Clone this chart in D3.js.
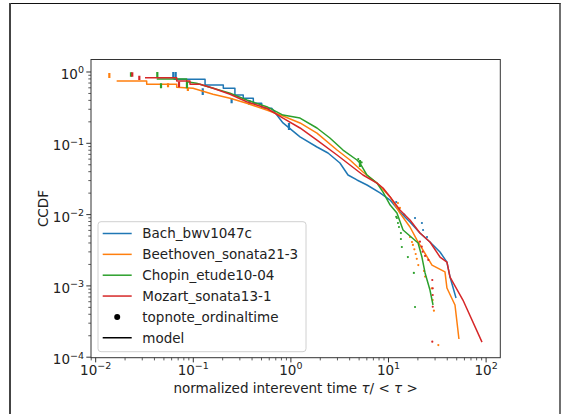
<!DOCTYPE html>
<html><head><meta charset="utf-8">
<script src="https://cdn.jsdelivr.net/npm/d3@7"></script>
<style>html,body{margin:0;padding:0;background:#fff;} svg{display:block;font-family:"DejaVu Sans",sans-serif;}</style>
</head><body><svg id="c" width="563" height="414"></svg>
<script>
// ---------- data ----------
const seriesNames = ["Bach_bwv1047c", "Beethoven_sonata21-3", "Chopin_etude10-04", "Mozart_sonata13-1"];
const seriesColors = ["#1f77b4", "#ff7f0e", "#2ca02c", "#d62728"];

// model lines (x = tau/<tau>, y = CCDF)
const bachX = [0.0628,0.132,0.132,0.203,0.203,0.267,0.267,0.325,0.325,0.412,0.412,0.502,0.502,0.636,0.830,1.24,1.85,2.40,3.18,3.85,4.75,6.02,8.19,10.4,13.1,16.6,21.0,26.6,33.7,39.7,42.7,49.2];
const bachY = [0.790,0.790,0.657,0.657,0.591,0.591,0.476,0.476,0.428,0.428,0.364,0.364,0.310,0.310,0.193,0.123,0.0887,0.0731,0.0529,0.0359,0.0306,0.0260,0.0201,0.0160,0.0109,0.00787,0.00552,0.00413,0.00299,0.00216,0.00133,0.000677];
const beetX = [0.0164,0.0333,0.0333,0.0676,0.0676,0.0993,0.159,0.238,0.353,0.565,0.830,1.24,1.85,2.97,4.03,5.48,7.62,10.4,13.1,16.6,19.6,27.9,37.9,39.7,48.0,52.7];
const beetY = [0.748,0.748,0.672,0.672,0.610,0.591,0.487,0.428,0.364,0.293,0.241,0.193,0.139,0.0805,0.0583,0.0396,0.0277,0.0177,0.0105,0.0067,0.0044,0.00196,0.00157,0.000935,0.00054,0.00018];
const chopX = [0.0422,0.0855,0.0855,0.108,0.160,0.238,0.353,0.565,0.830,1.24,1.85,2.51,3.42,4.75,5.10,6.02,7.62,8.79,10.4,12.2,14.1,20.1,22.0,23.7,26.6,28.6];
const chopY = [0.798,0.798,0.731,0.694,0.591,0.503,0.405,0.326,0.249,0.226,0.164,0.1187,0.0805,0.0583,0.0529,0.0359,0.0277,0.0207,0.0136,0.0105,0.00608,0.00400,0.00254,0.00152,0.000876,0.000540];
const mozX = [0.0320,0.0676,0.0676,0.0925,0.0925,0.117,0.160,0.238,0.353,0.565,0.830,1.24,1.85,2.97,4.03,5.48,7.62,8.79,10.4,13.1,16.6,21.0,26.6,33.7,39.7,42.7,57.9,90.8];
const mozY = [0.832,0.832,0.748,0.748,0.672,0.672,0.591,0.487,0.383,0.310,0.226,0.164,0.111,0.0685,0.0496,0.0359,0.0277,0.0236,0.0177,0.0116,0.0084,0.00552,0.00413,0.00254,0.00216,0.00133,0.000634,0.000163];

// data points (topnote_ordinaltime)
const bachDotX = [18.7,22.0,22.6,24.8,12.0,14.5];
const bachDotY = [0.00896,0.00762,0.00608,0.00485,0.0150,0.0100];
const beetDotX = [16.6,17.4,17.8,18.4,19.0,19.5,20.2,23.1,23.7,27.7,28.4,29.2,32.4,12.5,13.1];
const beetDotY = [0.00485,0.00413,0.00375,0.00326,0.0028,0.0024,0.00196,0.00162,0.00135,0.000925,0.000634,0.000449,0.000148,0.0145,0.0124];
const chopDotX = [12.2,12.5,12.8,13.4,13.4,13.7,15.8,18.2,18.7,4.9,5.3,12.0];
const chopDotY = [0.00896,0.00762,0.0067,0.00552,0.00455,0.00351,0.00254,0.00152,0.000506,0.060,0.054,0.0093];
const mozDotX = [21.0,21.9,22.4,23.7,25.6,28.1,28.4,28.4,28.4,28.1];
const mozDotY = [0.00417,0.00355,0.00302,0.00263,0.00231,0.00121,0.000925,0.000745,0.00051,0.000165];

// tied data points stacked vertically: x, upper CCDF, lower CCDF
const bachTieX = [0.0624,0.066,0.125,0.247,0.376,0.956];
const bachTieHi = [1.0,1.0,0.591,0.428,0.405,0.193];
const bachTieLo = [0.816,0.816,0.476,0.364,0.345,0.154];
const beetTieX = [0.0138,0.0551,0.088];
const beetTieHi = [0.968,0.694,0.60];
const beetTieLo = [0.824,0.61,0.54];
const chopTieX = [0.0230,0.0428,0.0467,0.0861,5.1];
const chopTieHi = [0.99,1.0,0.694,0.731,0.0583];
const chopTieLo = [0.86,0.832,0.591,0.591,0.0464];
const mozTieX = [0.0237,0.028,0.0714];
const mozTieHi = [0.99,0.887,0.731];
const mozTieLo = [0.86,0.772,0.610];

const xTickValues = [1e-2, 1e-1, 1e0, 1e1, 1e2];
const xTickExp = ["\u22122", "\u22121", "0", "1", "2"];
const yTickValues = [1e0, 1e-1, 1e-2, 1e-3, 1e-4];
const yTickExp = ["0", "\u22121", "\u22122", "\u22123", "\u22124"];

const xLabel = "normalized interevent time ";
const yLabel = "CCDF";
const legendExtra = ["topnote_ordinaltime", "model"];

// ---------- drawing ----------
const lines = [[bachX,bachY],[beetX,beetY],[chopX,chopY],[mozX,mozY]];
const dots = [[bachDotX,bachDotY],[beetDotX,beetDotY],[chopDotX,chopDotY],[mozDotX,mozDotY]];
const ties = [[bachTieX,bachTieHi,bachTieLo],[beetTieX,beetTieHi,beetTieLo],[chopTieX,chopTieHi,chopTieLo],[mozTieX,mozTieHi,mozTieLo]];

const svg = d3.select("#c");
const P = {left: 91, right: 500.3, top: 59.5, bottom: 357.7};
const x = d3.scaleLog().domain([Math.pow(10,-2.048), Math.pow(10,2.1455)]).range([P.left, P.right]);
const y = d3.scaleLog().domain([Math.pow(10,-4.007), Math.pow(10,0.1753)]).range([P.bottom, P.top]);
const FS = 13.5;

// outer frame
svg.append("line").attr("x1",9).attr("x2",560.5).attr("y1",3.5).attr("y2",3.5).attr("stroke","#111").attr("stroke-width",1.2);
svg.append("line").attr("x1",10).attr("x2",10).attr("y1",3).attr("y2",414).attr("stroke","#444").attr("stroke-width",2);
svg.append("line").attr("x1",560).attr("x2",560).attr("y1",3).attr("y2",414).attr("stroke","#333").attr("stroke-width",1.4);

svg.append("defs").append("clipPath").attr("id","clip")
  .append("rect").attr("x",P.left).attr("y",P.top).attr("width",P.right-P.left).attr("height",P.bottom-P.top);

const g = svg.append("g").attr("clip-path","url(#clip)");
const lineGen = d3.line().x(d => x(d[0])).y(d => y(d[1]));

lines.forEach((s, i) => {
  const pts = s[0].map((v, k) => [v, s[1][k]]);
  g.append("path").attr("d", lineGen(pts)).attr("fill","none")
    .attr("stroke", seriesColors[i]).attr("stroke-width",1.5).attr("stroke-linejoin","round");
  const dp = dots[i][0].map((v, k) => [v, dots[i][1][k]]);
  g.selectAll(null).data(dp).enter().append("circle")
    .attr("cx", d => x(d[0])).attr("cy", d => y(d[1])).attr("r",1.1).attr("fill", seriesColors[i]);
  const tp = ties[i][0].map((v, k) => [v, ties[i][1][k], ties[i][2][k]]);
  g.selectAll(null).data(tp).enter().append("line")
    .attr("x1", d => x(d[0])).attr("x2", d => x(d[0]))
    .attr("y1", d => y(d[1])).attr("y2", d => y(d[2]))
    .attr("stroke", seriesColors[i]).attr("stroke-width",2.2);
});

// spines
svg.append("rect").attr("x",P.left).attr("y",P.top).attr("width",P.right-P.left).attr("height",P.bottom-P.top)
  .attr("fill","none").attr("stroke","#333").attr("stroke-width",1);

// ticks
const minorX = x.ticks().filter(v => Math.abs(Math.log10(v) - Math.round(Math.log10(v))) > 1e-6);
const minorY = y.ticks().filter(v => Math.abs(Math.log10(v) - Math.round(Math.log10(v))) > 1e-6);
svg.selectAll(null).data(minorX).enter().append("line")
  .attr("x1", d => x(d)).attr("x2", d => x(d)).attr("y1", P.bottom).attr("y2", P.bottom+2.7)
  .attr("stroke","#333").attr("stroke-width",0.8);
svg.selectAll(null).data(minorY).enter().append("line")
  .attr("y1", d => y(d)).attr("y2", d => y(d)).attr("x1", P.left).attr("x2", P.left-2.7)
  .attr("stroke","#333").attr("stroke-width",0.8);
svg.selectAll(null).data(xTickValues).enter().append("line")
  .attr("x1", d => x(d)).attr("x2", d => x(d)).attr("y1", P.bottom).attr("y2", P.bottom+4.7)
  .attr("stroke","#333").attr("stroke-width",1);
svg.selectAll(null).data(yTickValues).enter().append("line")
  .attr("y1", d => y(d)).attr("y2", d => y(d)).attr("x1", P.left).attr("x2", P.left-4.7)
  .attr("stroke","#333").attr("stroke-width",1);

xTickValues.forEach((v, i) => {
  const t = svg.append("text").attr("x", x(v)).attr("y", P.bottom + 17).attr("text-anchor","middle")
    .attr("font-size", FS).attr("fill","#222");
  t.append("tspan").text("10");
  t.append("tspan").attr("dy",-5.5).attr("font-size",9.5).text(xTickExp[i]);
});
yTickValues.forEach((v, i) => {
  const t = svg.append("text").attr("x", P.left - 7).attr("y", y(v) + 7).attr("text-anchor","end")
    .attr("font-size", FS).attr("fill","#222");
  t.append("tspan").text("10");
  t.append("tspan").attr("dy",-5.5).attr("font-size",9.5).text(yTickExp[i]);
});

// axis labels
const xl = svg.append("text").attr("x", (P.left+P.right)/2).attr("y", 392.5).attr("text-anchor","middle")
  .attr("font-size", FS).attr("fill","#222");
xl.append("tspan").text(xLabel);
xl.append("tspan").attr("font-style","italic").text("\u03c4");
xl.append("tspan").text("/ < ");
xl.append("tspan").attr("font-style","italic").text("\u03c4");
xl.append("tspan").text(" >");
svg.append("text").attr("transform", `translate(48,${(P.top+P.bottom)/2}) rotate(-90)`)
  .attr("text-anchor","middle").attr("font-size", FS).attr("fill","#222").text(yLabel);

// legend
const L = {x: 98, y: 221.7, w: 208, h: 130};
svg.append("rect").attr("x",L.x).attr("y",L.y).attr("width",L.w).attr("height",L.h).attr("rx",3)
  .attr("fill","#fff").attr("fill-opacity",0.85).attr("stroke","#d0d0d0").attr("stroke-width",1);
const labels = seriesNames.concat(legendExtra);
const rowY = d => 233.5 + d * 20.85;
labels.forEach((lab, i) => {
  const cy = rowY(i);
  if (i < 4) {
    svg.append("line").attr("x1",102.7).attr("x2",131.7).attr("y1",cy).attr("y2",cy)
      .attr("stroke", seriesColors[i]).attr("stroke-width",1.5);
  } else if (i === 4) {
    svg.append("circle").attr("cx",117.2).attr("cy",cy).attr("r",3).attr("fill","#000");
  } else {
    svg.append("line").attr("x1",102.7).attr("x2",131.7).attr("y1",cy).attr("y2",cy)
      .attr("stroke","#000").attr("stroke-width",1.5);
  }
  svg.append("text").attr("x",142.3).attr("y",cy+4.8).attr("font-size",FS).attr("fill","#222").text(lab);
});
</script></body></html>
